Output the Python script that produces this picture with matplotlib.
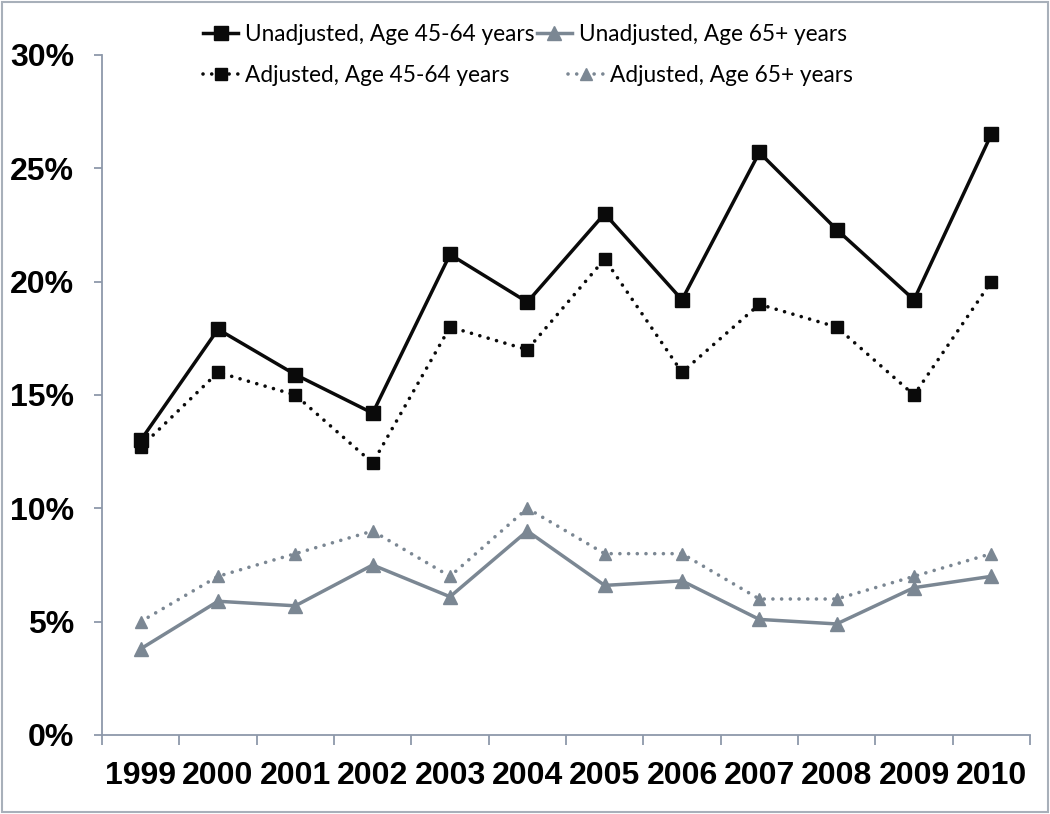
import numpy as np
import matplotlib.pyplot as plt
from matplotlib.patches import Rectangle
from matplotlib.ticker import FixedLocator, PercentFormatter

years = ['1999', '2000', '2001', '2002', '2003', '2004',
         '2005', '2006', '2007', '2008', '2009', '2010']

# percent values
unadj_45_64 = [13.0, 17.9, 15.9, 14.2, 21.2, 19.1, 23.0, 19.2, 25.7, 22.3, 19.2, 26.5]
unadj_65 = [3.8, 5.9, 5.7, 7.5, 6.1, 9.0, 6.6, 6.8, 5.1, 4.9, 6.5, 7.0]
adj_45_64 = [12.7, 16.0, 15.0, 12.0, 18.0, 17.0, 21.0, 16.0, 19.0, 18.0, 15.0, 20.0]
adj_65 = [5.0, 7.0, 8.0, 9.0, 7.0, 10.0, 8.0, 8.0, 6.0, 6.0, 7.0, 8.0]

black = '#0a0a0a'
gray = '#7b8793'
axis_col = '#8d99aa'
dots = (0, (0.01, 2.4))

fig = plt.figure(figsize=(10.5, 8.14), dpi=100)
ax = fig.add_axes([102 / 1050, 79 / 814, 928 / 1050, 680 / 814])

x = np.arange(len(years)) + 0.5
l1, = ax.plot(x, unadj_45_64, color=black, lw=2.5, marker='s', ms=9.5,
              label='Unadjusted, Age 45-64 years')
l2, = ax.plot(x, unadj_65, color=gray, lw=2.5, marker='^', ms=9.5,
              label='Unadjusted, Age 65+ years')
l3, = ax.plot(x, adj_45_64, color=black, lw=2.6, ls=dots, dash_capstyle='round',
              marker='s', ms=9, label='Adjusted, Age 45-64 years')
l4, = ax.plot(x, adj_65, color=gray, lw=2.6, ls=dots, dash_capstyle='round',
              marker='^', ms=9, label='Adjusted, Age 65+ years')

ax.set_xlim(0, 12)
ax.set_ylim(0, 30)
ax.set_yticks(np.arange(0, 31, 5))
ax.yaxis.set_major_formatter(PercentFormatter(decimals=0))
ax.set_xticks(np.arange(0, 13))
ax.set_xticklabels([])
ax.xaxis.set_minor_locator(FixedLocator(x))
ax.set_xticklabels(years, minor=True)

for s in ['top', 'right']:
    ax.spines[s].set_visible(False)
for s in ['left', 'bottom']:
    ax.spines[s].set_color(axis_col)
    ax.spines[s].set_linewidth(1.3)

ax.tick_params(axis='y', which='major', length=6, width=1.3, color=axis_col,
               pad=14, labelsize=23)
ax.tick_params(axis='x', which='major', length=7, width=1.3, color=axis_col)
ax.tick_params(axis='x', which='minor', length=0, pad=19, labelsize=23)
for lab in ax.get_yticklabels() + ax.get_xticklabels(minor=True):
    lab.set_fontweight('bold')
    lab.set_family('Liberation Sans')

# one legend per row, like the original's staggered layout
leg_kw = dict(loc='upper left', ncol=2, frameon=False,
              prop={'family': 'Lato', 'size': 16.3},
              handlelength=1.55, handletextpad=0.3, borderaxespad=0)
leg1 = fig.legend([l1, l2], [l1.get_label(), l2.get_label()],
                  bbox_to_anchor=(194 / 1050, 1 - 15 / 814), columnspacing=0.1,
                  **leg_kw)
fig.legend([l3, l4], [l3.get_label(), l4.get_label()],
           bbox_to_anchor=(194 / 1050, 1 - 56 / 814), columnspacing=2.6,
           **leg_kw)

fig.patches.append(Rectangle((0.002, 0.002), 0.996, 0.996, transform=fig.transFigure,
                             fill=False, edgecolor='#a8b0ba', lw=1.5))

fig.savefig('out.png', dpi=100)
